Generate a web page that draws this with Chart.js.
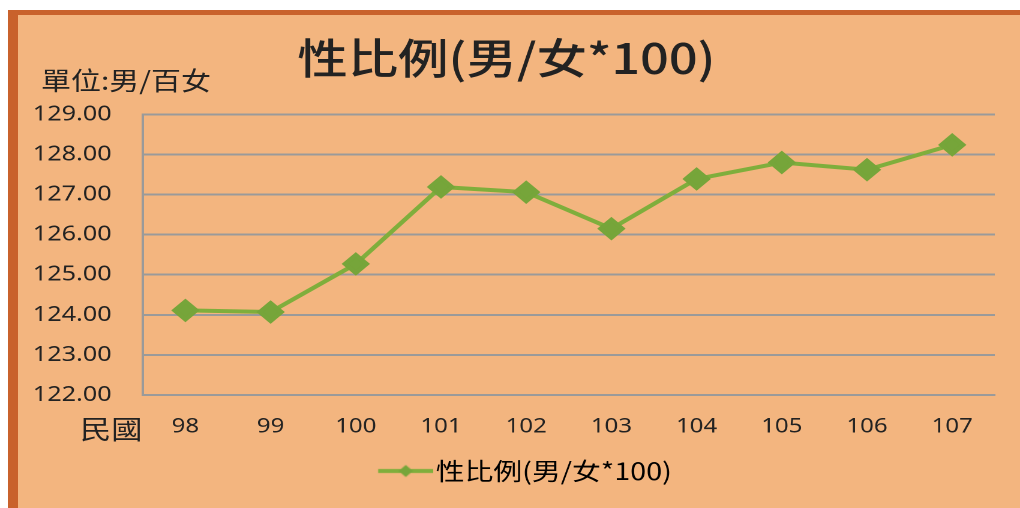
<!DOCTYPE html>
<html>
<head>
<meta charset="utf-8">
<script src="https://cdn.jsdelivr.net/npm/chart.js@4/dist/chart.umd.min.js"></script>
<style>
  body { margin: 0; background: #ffffff; width: 1020px; height: 508px; overflow: hidden; position: relative; }
  #box {
    position: absolute; left: 8px; top: 10px; width: 1002px; height: 493px;
    border-top: 5px solid #c9622c; border-left: 10px solid #c9622c;
    background: #f3b57f;
  }
  .lbl { position: absolute; color: #222; font-family: 'Noto Sans CJK TC', 'Noto Sans', sans-serif;
         white-space: nowrap; transform: scaleX(1.2); transform-origin: left center; line-height: 1; }
</style>
</head>
<body>
<div id="box"><canvas id="chartRatio" width="835" height="493" style="width:1002px;height:493px;"></canvas></div>
<div class="lbl" style="left:41px; top:67px; font-size:25px;">單位:男/百女</div>
<div class="lbl" style="left:80px; top:415px; font-size:26px;">民國</div>
<script>
const years = ['98', '99', '100', '101', '102', '103', '104', '105', '106', '107'];
const ratios = [124.11, 124.07, 125.27, 127.19, 127.06, 126.15, 127.39, 127.80, 127.62, 128.24];
const serieName = '性比例(男/女*100)';
const titulo = '性比例(男/女*100)';

const verde = '#7fae3c';
const fuenteNum = "'Noto Sans', 'Noto Sans CJK TC', sans-serif";
const fuenteCJK = "'Noto Sans CJK TC', 'Noto Sans', sans-serif";

// el original esta estirado a lo ancho: el canvas se dibuja a 835 y se muestra a 1002
// icono de la leyenda: linea con rombo (parte izquierda transparente, pega al texto)
const icono = document.createElement('canvas');
icono.width = 87; icono.height = 14;
const ic = icono.getContext('2d');
ic.strokeStyle = verde; ic.lineWidth = 4;
ic.beginPath(); ic.moveTo(41, 7); ic.lineTo(87, 7); ic.stroke();
ic.fillStyle = '#76a53a';
ic.beginPath(); ic.moveTo(64, 1); ic.lineTo(70, 7); ic.lineTo(64, 13); ic.lineTo(58, 7); ic.closePath(); ic.fill();

const ctxRatio = document.getElementById('chartRatio');

new Chart(ctxRatio, {
  type: 'line',
  data: {
    labels: years,
    datasets: [{
      label: serieName,
      data: ratios,
      borderColor: verde,
      borderWidth: 4,
      backgroundColor: '#76a53a',
      pointStyle: 'rectRot',
      pointRadius: 9,
      pointBackgroundColor: '#76a53a',
      pointBorderColor: '#76a53a',
      tension: 0
    }]
  },
  options: {
    responsive: false,
    animation: false,
    devicePixelRatio: 2,
    layout: { padding: { left: 0, right: 21, top: 0, bottom: 15 } },
    scales: {
      x: {
        offset: true,
        grid: { display: false, drawTicks: false },
        border: { color: '#9a9a9a', width: 2 },
        ticks: { color: '#222', font: { family: fuenteNum, size: 20 }, padding: 20 }
      },
      y: {
        min: 122,
        max: 129,
        afterFit: (scale) => { scale.width = 104; },
        grid: { color: '#9a9a9a', lineWidth: 2, drawTicks: false },
        border: { color: '#9a9a9a', width: 2 },
        ticks: {
          stepSize: 1,
          color: '#222',
          padding: 26,
          font: { family: fuenteNum, size: 21 },
          callback: (v) => Number(v).toFixed(2)
        }
      }
    },
    plugins: {
      title: {
        display: true,
        text: titulo,
        color: '#222',
        font: { family: fuenteCJK, size: 42, weight: '500' },
        padding: { top: 18, bottom: 31 }
      },
      legend: {
        position: 'bottom',
        labels: {
          color: '#222',
          font: { family: fuenteCJK, size: 24 },
          usePointStyle: true,
          pointStyleWidth: 67,
          padding: 0,
          generateLabels: (chart) => [{
            text: serieName,
            pointStyle: icono,
            fillStyle: verde,
            strokeStyle: verde,
            lineWidth: 0,
            datasetIndex: 0
          }]
        }
      },
      tooltip: { enabled: false }
    }
  }
});
</script>
</body>
</html>
